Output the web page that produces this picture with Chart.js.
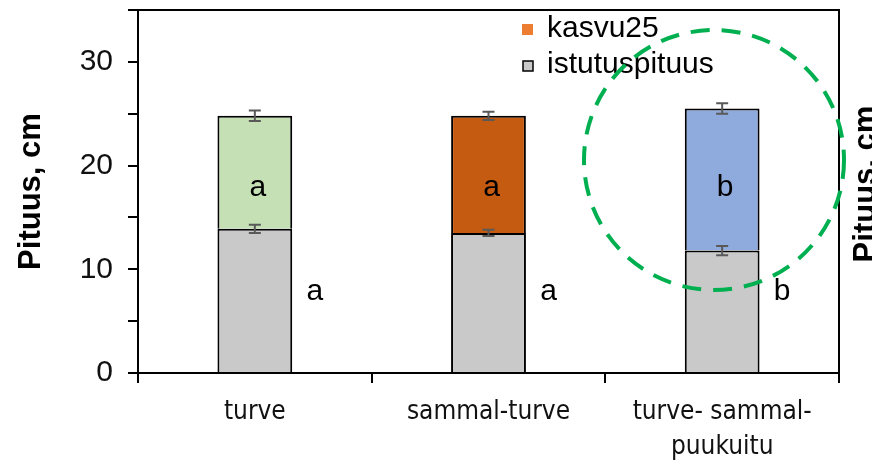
<!DOCTYPE html>
<html>
<head>
<meta charset="utf-8">
<script src="https://cdn.jsdelivr.net/npm/chart.js@4"></script>
<style>
  html, body { margin: 0; padding: 0; background: #fff; }
  canvas { display: block; }
</style>
</head>
<body>
<canvas id="pituusChart" width="872" height="466"></canvas>
<script>
// values
const categories = ["turve", "sammal-turve", ["turve- sammal-", "puukuitu"]];
const istutuspituus = [13.9, 13.5, 11.8];
const kasvu25 = [10.9, 11.3, 13.7];
const istutusErr = [0.4, 0.3, 0.45];
const totalErr = [0.5, 0.4, 0.5];
const kasvuLetters = ["a", "a", "b"];
const istutusLetters = ["a", "a", "b"];

const sans = "'Liberation Sans', Arial, sans-serif";
const narrow = "'Liberation Sans Narrow', 'Arial Narrow', 'DejaVu Sans Condensed', sans-serif";

const kasvuColors = ["#C5E0B4", "#C55A11", "#8FAADC"];
const grey = "#C9C9C9";

const extras = {
  id: "extras",
  afterDatasetsDraw(chart) {
    const ctx = chart.ctx;
    const x = chart.scales.x, y = chart.scales.y;
    // error bars
    ctx.save();
    ctx.strokeStyle = "#595959";
    ctx.lineWidth = 2;
    categories.forEach((c, i) => {
      const cx = x.getPixelForValue(i);
      const pairs = [
        [istutuspituus[i], istutusErr[i]],
        [istutuspituus[i] + kasvu25[i], totalErr[i]]
      ];
      pairs.forEach(([v, e]) => {
        const y1 = y.getPixelForValue(v - e), y2 = y.getPixelForValue(v + e);
        ctx.beginPath();
        ctx.moveTo(cx, y1); ctx.lineTo(cx, y2);
        ctx.moveTo(cx - 6, y1); ctx.lineTo(cx + 6, y1);
        ctx.moveTo(cx - 6, y2); ctx.lineTo(cx + 6, y2);
        ctx.stroke();
      });
    });
    ctx.restore();
  },
  afterDraw(chart) {
    const ctx = chart.ctx;
    const a = chart.chartArea;
    const x = chart.scales.x, y = chart.scales.y;
    ctx.save();
    // plot frame, top and right
    ctx.strokeStyle = "#000";
    ctx.lineWidth = 2;
    ctx.beginPath();
    ctx.moveTo(a.left, a.top); ctx.lineTo(a.right, a.top); ctx.lineTo(a.right, a.bottom + 10);
    ctx.stroke();

    // significance letters
    ctx.fillStyle = "#000";
    ctx.font = "30px " + sans;
    ctx.textAlign = "center";
    ctx.textBaseline = "middle";
    categories.forEach((c, i) => {
      const cx = x.getPixelForValue(i);
      ctx.fillText(kasvuLetters[i], cx + 3, y.getPixelForValue(17.9));
      ctx.fillText(istutusLetters[i], cx + 60, y.getPixelForValue(7.8));
    });

    // legend
    ctx.textAlign = "left";
    ctx.textBaseline = "alphabetic";
    ctx.fillStyle = "#ED7D31";
    ctx.fillRect(522, 24, 11, 11);
    ctx.fillStyle = grey;
    ctx.fillRect(523, 61, 10, 10);
    ctx.strokeStyle = "#000";
    ctx.lineWidth = 1.5;
    ctx.strokeRect(523, 61, 10, 10);
    ctx.fillStyle = "#000";
    ctx.fillText(chart.data.datasets[1].label, 547, 37);
    ctx.fillText(chart.data.datasets[0].label, 547, 73);

    // dashed highlight circle
    ctx.strokeStyle = "#00B050";
    ctx.lineWidth = 4;
    ctx.setLineDash([19, 12]);
    ctx.beginPath();
    ctx.arc(714, 160, 130, 0, Math.PI * 2);
    ctx.stroke();
    ctx.setLineDash([]);

    // neighbouring chart's axis title, cut by the edge
    ctx.translate(875, 184);
    ctx.rotate(-Math.PI / 2);
    ctx.font = "bold 31px " + sans;
    ctx.textAlign = "center";
    ctx.fillText("Pituus, cm", 0, 0);
    ctx.restore();
  }
};

new Chart(document.getElementById("pituusChart"), {
  type: "bar",
  data: {
    labels: categories,
    datasets: [
      {
        label: "istutuspituus",
        data: istutuspituus,
        backgroundColor: grey,
        borderColor: "#000",
        borderWidth: 2,
        borderSkipped: "bottom"
      },
      {
        label: "kasvu25",
        data: kasvu25,
        backgroundColor: kasvuColors,
        borderColor: "#000",
        borderWidth: 2,
        borderSkipped: "bottom"
      }
    ]
  },
  options: {
    responsive: false,
    devicePixelRatio: 1,
    animation: false,
    layout: { padding: { top: 10, right: 33, left: 0, bottom: 0 } },
    datasets: { bar: { categoryPercentage: 1, barPercentage: 0.32 } },
    plugins: { legend: { display: false }, tooltip: { enabled: false } },
    scales: {
      x: {
        stacked: true,
        offset: true,
        grid: { offset: true, drawOnChartArea: false, color: "#000", lineWidth: 2, tickLength: 10 },
        border: { color: "#000", width: 2 },
        ticks: {
          color: "#111",
          font: { family: narrow, size: 26, lineHeight: 1.35 },
          padding: 12,
          maxRotation: 0,
          autoSkip: false
        },
        afterFit: s => { s.height = 93; }
      },
      y: {
        stacked: true,
        min: 0,
        max: 35,
        grid: { drawOnChartArea: false, color: "#000", lineWidth: 2, tickLength: 10 },
        border: { color: "#000", width: 2 },
        ticks: {
          stepSize: 5,
          color: "#111",
          font: { family: sans, size: 30 },
          padding: 15,
          callback: v => (v % 10 === 0 ? v : "")
        },
        title: {
          display: true,
          text: "Pituus, cm",
          color: "#000",
          font: { family: sans, size: 31, weight: "bold" },
          padding: { top: 13, bottom: 0 }
        },
        afterFit: s => {
          s.width = 138;
          s.paddingTop = 0;
          s.paddingBottom = 0;
        }
      }
    }
  },
  plugins: [extras]
});
</script>
</body>
</html>
